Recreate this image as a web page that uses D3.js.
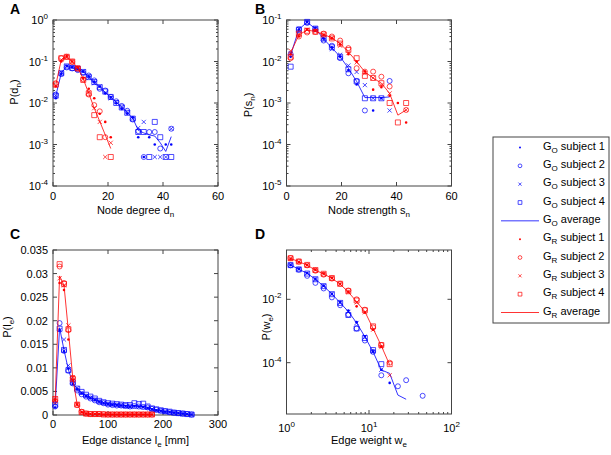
<!DOCTYPE html>
<html>
<head>
<meta charset="utf-8">
<script src="https://cdn.jsdelivr.net/npm/d3@7"></script>
<style>
  body { margin: 0; background: #fff; }
  text { font-family: "Liberation Sans", Arial, sans-serif; }
</style>
</head>
<body>
<div id="chart"></div>
<script>
// ---- data ----
// A: node degree
const degO = [1,3,5,7,9,11,13,15,17,19,21,23,25,27,29,31,33,35,37,39,41,43];
const degO_s1 = [0.013,0.05,0.078,0.072,0.066,0.057,0.044,0.033,0.025,0.017,0.014,0.0098,0.0072,0.0055,0.0045,0.0015,0.0005,0.0015,0.001,null,0.001,0.001];
const degO_s2 = [0.016,0.05,0.072,0.068,0.062,0.053,0.046,0.035,0.022,0.02,0.014,0.011,0.0085,0.0065,0.004,0.0021,0.0005,0.002,0.002,0.0008,null,0.0024];
const degO_s3 = [0.015,0.055,0.077,0.073,0.068,0.058,0.04,0.03,0.025,0.018,0.013,0.0105,0.008,0.006,0.0042,0.0025,0.0035,null,0.0005,0.0005,0.0005,0.0024];
const degO_s4 = [0.015,0.052,0.076,0.07,0.067,0.056,0.042,0.032,0.024,0.019,0.014,0.01,0.0078,0.0058,0.0042,0.002,0.002,0.0005,0.0035,0.0015,0.0005,0.0005];
const degO_avg = [0.0148,0.052,0.076,0.071,0.066,0.056,0.043,0.032,0.024,0.018,0.0138,0.0105,0.0079,0.0059,0.0043,0.0022,0.0019,0.0017,0.0016,0.0011,0.00068,0.00155];

const degR = [1,3,5,7,9,11,13,15,17,19,21];
const degR_s1 = [0.025,0.1,0.135,0.1,0.072,0.04,0.022,0.013,0.0055,0.0035,0.0015];
const degR_s2 = [0.03,0.12,0.13,0.098,0.068,0.037,0.016,0.0089,0.0063,0.0015,null];
const degR_s3 = [0.026,0.11,0.125,0.1,0.07,0.038,0.018,0.0075,0.0035,0.0005,0.0011];
const degR_s4 = [0.028,0.12,0.13,0.1,0.068,0.036,0.017,0.0051,0.0015,null,0.0005];
const degR_avg = [0.027,0.11,0.13,0.1,0.07,0.038,0.017,0.0075,0.0036,0.0017,0.0008];

// B: node strength
const strO = [1.5,4.5,7.5,10.5,13.5,16.5,19.5,22.5,25.5,28.5,31.5,34.5,37.5];
const strO_s1 = [0.013,0.058,0.09,0.064,0.036,0.022,0.013,0.0062,0.0028,null,0.00066,0.0013,null];
const strO_s2 = [0.015,0.06,0.085,0.06,0.032,0.024,0.012,0.0052,0.0034,0.00066,null,null,0.0034];
const strO_s3 = [0.016,0.062,0.088,0.063,0.033,0.02,0.0145,0.008,0.0056,0.0027,0.0013,0.0013,0.00066];
const strO_s4 = [0.0075,0.058,0.09,0.062,0.036,0.022,0.013,0.0065,0.0033,0.0013,0.0013,0.0013,null];
const strO_avg = [0.0144,0.06,0.088,0.062,0.035,0.0215,0.013,0.0069,0.0033,0.00135,0.00135,0.00135,0.0014];

const strR = [1.5,4.5,7.5,10.5,13.5,16.5,19.5,22.5,25.5,28.5,31.5,34.5,37.5,40.5,43.5];
const strR_s1 = [0.015,0.04,0.06,0.055,0.044,0.036,0.026,0.015,0.01,0.0058,0.0021,0.0024,0.0015,0.001,0.00034];
const strR_s2 = [0.012,0.04,0.05,0.052,0.047,0.04,0.032,0.021,0.0069,0.0057,0.0057,0.0043,0.0025,null,0.00068];
const strR_s3 = [0.018,0.045,0.058,0.054,0.044,0.037,0.024,0.016,0.0095,0.0052,0.004,0.0027,0.0017,null,0.00068];
const strR_s4 = [0.013,0.047,0.055,0.052,0.045,0.036,0.027,0.019,0.012,0.0045,0.004,0.003,0.001,0.00034,0.001];
const strR_avg = [0.016,0.044,0.057,0.053,0.045,0.037,0.027,0.017,0.01,0.0056,0.004,0.003,0.0017,0.00051,0.00068];

// C: edge distance
const distO = [4,12,20,28,36,44,52,60,68,76,84,92,100,108,116,124,132,140,148,156,164,172,180,188,196,204,212,220,228,236,244,252];
const distO_s1 = [0.0016,0.018,0.0135,0.0098,0.0066,0.0054,0.0046,0.004,0.0036,0.0032,0.0028,0.0025,0.0023,0.0022,0.0021,0.002,0.0019,0.0018,0.0019,0.0018,0.0017,0.0015,0.0012,0.001,0.0009,0.0007,0.0006,0.0005,0.0004,0.0003,0.0002,0.0001];
const distO_s2 = [0.0018,0.0195,0.0136,0.0094,0.0067,0.0052,0.0044,0.0039,0.0035,0.0031,0.0027,0.0025,0.0022,0.0021,0.002,0.002,0.0019,0.0018,0.0019,0.0018,0.0017,0.0016,0.0013,0.0011,0.0009,0.0008,0.0006,0.0005,0.0004,0.0003,0.0002,0.0001];
const distO_s3 = [0.0024,0.018,0.016,0.0105,0.0072,0.0057,0.0047,0.0041,0.0037,0.0033,0.0029,0.0026,0.0024,0.0022,0.0021,0.002,0.0018,0.0017,0.0017,0.0017,0.0016,0.0015,0.0012,0.001,0.0009,0.0007,0.0006,0.0005,0.0004,0.0003,0.0002,0.0001];
const distO_s4 = [0.0022,0.0183,0.0138,0.0095,0.0069,0.0056,0.0049,0.0043,0.0039,0.0035,0.003,0.0027,0.0025,0.0024,0.0023,0.0022,0.0021,0.0021,0.0025,0.0023,0.0024,0.0018,0.0014,0.0012,0.001,0.0008,0.0007,0.0005,0.0004,0.0003,0.0002,0.0001];
const distO_avg = [0.002,0.0185,0.0138,0.0096,0.0068,0.0055,0.0047,0.0041,0.0037,0.0033,0.0029,0.0026,0.0024,0.0023,0.0022,0.0021,0.002,0.0019,0.002,0.0019,0.0018,0.0016,0.0013,0.0011,0.0009,0.0008,0.00065,0.0005,0.0004,0.0003,0.0002,0.0001];

const distR = [4,12,20,28,36,44,52,60,68,76,84,92,100,108,116,124,132,140,148,156,164,172,180];
const distR_s1 = [0.0032,0.028,0.0265,0.016,0.0075,0.0022,0.0006,0.0003,0.0002,0.0002,0.0002,0.0001,0.0001,0.0001,0.0001,0.0001,0.0001,0.0001,0.0001,0.0001,0.0001,0.0001,0.0001];
const distR_s2 = [0.003,0.0315,0.028,0.018,0.0079,0.0021,0.0007,0.0003,0.0002,0.0002,0.0002,0.0002,0.0001,0.0001,0.0001,0.0001,0.0001,0.0001,0.0001,0.0001,0.0001,0.0001,0.0001];
const distR_s3 = [0.0035,0.029,0.0275,0.019,0.008,0.0023,0.0006,0.0003,0.0002,0.0002,0.0001,0.0001,0.0001,0.0001,0.0001,0.0001,0.0001,0.0001,0.0001,0.0001,0.0001,0.0001,0.0001];
const distR_s4 = [0.0034,0.032,0.0278,0.0182,0.0076,0.0022,0.0006,0.0003,0.0002,0.0002,0.0002,0.0001,0.0001,0.0001,0.0001,0.0001,0.0001,0.0001,0.0001,0.0001,0.0001,0.0001,0.0001];
const distR_avg = [0.0033,0.0295,0.0275,0.0178,0.0078,0.0022,0.0006,0.0003,0.0002,0.0002,0.0002,0.0001,0.0001,0.0001,0.0001,0.0001,0.0001,0.0001,0.0001,0.0001,0.0001,0.0001,0.0001];

// D: edge weight
const wgt = [1.12,1.41,1.78,2.24,2.82,3.55,4.47,5.62,7.08,8.91,11.2,14.1,17.8,22.4,28.2,35.5,44.7];
const wgtO_s1 = [0.12,0.09,0.068,0.044,0.027,0.015,0.0082,0.0044,0.0019,0.00068,0.00023,6e-5,2.3e-5,null,null,null,null];
const wgtO_s2 = [0.118,0.086,0.055,0.033,0.022,0.0115,0.0065,0.0033,0.0012,0.0005,0.00022,4e-5,null,1.8e-5,2.8e-5,null,9e-6];
const wgtO_s3 = [0.122,0.09,0.066,0.044,0.026,0.015,0.0078,0.004,0.0018,0.00066,0.00022,6e-5,null,null,null,null,null];
const wgtO_s4 = [0.12,0.088,0.065,0.043,0.026,0.0145,0.0077,0.0032,0.0012,0.0006,0.00025,9e-5,null,null,null,null,null];
const wgtO_avg = [0.121,0.089,0.066,0.043,0.026,0.0147,0.0078,0.0041,0.0018,0.00066,0.00022,5.9e-5,4.6e-5,9.5e-6,7e-6];

const wgtR_s1 = [0.19,0.15,0.12,0.085,0.065,0.047,0.031,0.0175,0.006,0.0038,0.0011,0.00033,null];
const wgtR_s2 = [0.2,0.155,0.118,0.08,0.06,0.045,0.031,0.019,0.01,0.0047,0.0013,0.00036,0.0001];
const wgtR_s3 = [0.195,0.153,0.12,0.084,0.063,0.046,0.03,0.017,0.008,0.0039,0.0011,0.00031,4e-5];
const wgtR_s4 = [0.198,0.156,0.122,0.084,0.064,0.047,0.031,0.018,0.0092,0.0045,0.0014,0.00036,9e-5];
const wgtR_avg = [0.195,0.154,0.12,0.083,0.063,0.046,0.03,0.017,0.0084,0.0041,0.0012,0.00034,8.5e-5];

const legendLabels = ['subject 1','subject 2','subject 3','subject 4','average'];

// ---- setup ----
const width = 611, height = 455;
const blue = '#0000ff', red = '#ff0000', axisColor = '#444';
const markerTypes = ['dot','circle','cross','square'];

const svg = d3.select('#chart').append('svg')
  .attr('width', width).attr('height', height);

function markerPath(type, cx, cy, k) {
  k = k || 1;
  if (type === 'dot' || type === 'circle') {
    const r = (type === 'dot' ? 1.3 : 2.5) * k;
    return `M${cx - r},${cy}a${r},${r} 0 1,0 ${2 * r},0a${r},${r} 0 1,0 ${-2 * r},0Z`;
  }
  if (type === 'cross') {
    const h = 2.1 * k;
    return `M${cx - h},${cy - h}L${cx + h},${cy + h}M${cx - h},${cy + h}L${cx + h},${cy - h}`;
  }
  const h = 2.5 * k;
  return `M${cx - h},${cy - h}h${2 * h}v${2 * h}h${-2 * h}Z`;
}

// text with sub/superscripts: parts = [[str, 'sub'|'sup'|null], ...]
function rich(sel, parts, small) {
  let shift = 0;
  parts.forEach(([t, k]) => {
    const target = k === 'sub' ? 3 : k === 'sup' ? -5 : 0;
    sel.append('tspan')
      .attr('dy', target - shift)
      .attr('font-size', k ? (small || 8) : null)
      .text(t);
    shift = target;
  });
}

function supLabel(exp) { return [['10', null], [String(exp), 'sup']]; }

function frame(g, x, y, opt) {
  const [x0, x1] = x.range(), [y0, y1] = y.range();
  g.append('rect')
    .attr('x', x0).attr('y', y1).attr('width', x1 - x0).attr('height', y0 - y1)
    .attr('fill', 'none').attr('stroke', axisColor).attr('stroke-width', 1);

  const tk = g.append('g').attr('stroke', axisColor).attr('stroke-width', 1);
  opt.xTicks.forEach(v => {
    tk.append('line').attr('x1', x(v)).attr('x2', x(v)).attr('y1', y0).attr('y2', y0 - 4);
    tk.append('line').attr('x1', x(v)).attr('x2', x(v)).attr('y1', y1).attr('y2', y1 + 4);
  });
  (opt.xMinor || []).forEach(v => {
    tk.append('line').attr('x1', x(v)).attr('x2', x(v)).attr('y1', y0).attr('y2', y0 - 2);
    tk.append('line').attr('x1', x(v)).attr('x2', x(v)).attr('y1', y1).attr('y2', y1 + 2);
  });
  opt.yTicks.forEach(v => {
    tk.append('line').attr('y1', y(v)).attr('y2', y(v)).attr('x1', x0).attr('x2', x0 + 4);
    tk.append('line').attr('y1', y(v)).attr('y2', y(v)).attr('x1', x1).attr('x2', x1 - 4);
  });
  (opt.yMinor || []).forEach(v => {
    tk.append('line').attr('y1', y(v)).attr('y2', y(v)).attr('x1', x0).attr('x2', x0 + 2);
    tk.append('line').attr('y1', y(v)).attr('y2', y(v)).attr('x1', x1).attr('x2', x1 - 2);
  });

  const lab = g.append('g').attr('font-size', 11).attr('fill', '#000');
  opt.xTicks.forEach(v => {
    const t = lab.append('text').attr('x', x(v)).attr('y', opt.xLabY).attr('text-anchor', 'middle');
    if (opt.xLog) rich(t, supLabel(Math.round(Math.log10(v))));
    else t.text(opt.xFmt ? opt.xFmt(v) : v);
  });
  opt.yTicks.forEach(v => {
    const t = lab.append('text').attr('x', x0 - 5).attr('y', y(v) + 4).attr('text-anchor', 'end');
    if (opt.yLog) rich(t, supLabel(Math.round(Math.log10(v))));
    else t.text(opt.yFmt ? opt.yFmt(v) : v);
  });

  const xt = g.append('text').attr('x', (x0 + x1) / 2).attr('y', opt.xTitleY)
    .attr('text-anchor', 'middle').attr('font-size', 11);
  rich(xt, opt.xTitle);
  const yt = g.append('text')
    .attr('transform', `translate(${opt.yTitleX},${opt.yTitleY}) rotate(-90)`)
    .attr('text-anchor', 'middle').attr('font-size', 11);
  rich(yt, opt.yTitle);

  g.append('text').attr('x', opt.letter[1]).attr('y', opt.letter[2])
    .attr('font-size', 14).attr('font-weight', 'bold').text(opt.letter[0]);
}

function plotGroup(g, x, y, xs, subjects, avg, color) {
  subjects.forEach((vals, i) => {
    const pts = xs.map((d, j) => ({ x: d, v: vals[j] })).filter(p => p.v != null);
    g.append('g').selectAll('path').data(pts).join('path')
      .attr('d', p => markerPath(markerTypes[i], x(p.x), y(p.v)))
      .attr('fill', markerTypes[i] === 'dot' ? color : 'none')
      .attr('stroke', color).attr('stroke-width', markerTypes[i] === 'dot' ? 0 : 0.7);
  });
  const line = d3.line().x(d => x(d.x)).y(d => y(d.v));
  const pts = avg.map((v, j) => ({ x: xs[j], v }));
  g.append('path').datum(pts).attr('d', line)
    .attr('fill', 'none').attr('stroke', color).attr('stroke-width', 0.8);
}

function minorLog(lo, hi) {
  const out = [];
  for (let e = lo; e < hi; e++) for (let m = 2; m <= 9; m++) out.push(m * Math.pow(10, e));
  return out;
}

// ---- panel A ----
const xA = d3.scaleLinear().domain([0, 60]).range([53, 218]);
const yA = d3.scaleLog().domain([1e-4, 1]).range([186, 20]);
const gA = svg.append('g');
frame(gA, xA, yA, {
  xTicks: [0, 20, 40, 60], yTicks: [1e-4, 1e-3, 1e-2, 1e-1, 1], yLog: true,
  yMinor: minorLog(-4, 0),
  xLabY: 200, xTitleY: 214, xTitle: [['Node degree d', null], ['n', 'sub']],
  yTitleX: 18, yTitleY: 92, yTitle: [['P(d', null], ['n', 'sub'], [')', null]],
  letter: ['A', 10, 14]
});
plotGroup(gA, xA, yA, degO, [degO_s1, degO_s2, degO_s3, degO_s4], degO_avg, blue);
plotGroup(gA, xA, yA, degR, [degR_s1, degR_s2, degR_s3, degR_s4], degR_avg, red);

// ---- panel B ----
const xB = d3.scaleLinear().domain([0, 60]).range([286.5, 451.5]);
const yB = d3.scaleLog().domain([1e-5, 1e-1]).range([186, 20]);
const gB = svg.append('g');
frame(gB, xB, yB, {
  xTicks: [0, 20, 40, 60], yTicks: [1e-5, 1e-4, 1e-3, 1e-2, 1e-1], yLog: true,
  yMinor: minorLog(-5, -1),
  xLabY: 200, xTitleY: 214, xTitle: [['Node strength s', null], ['n', 'sub']],
  yTitleX: 252, yTitleY: 105, yTitle: [['P(s', null], ['n', 'sub'], [')', null]],
  letter: ['B', 255, 14]
});
plotGroup(gB, xB, yB, strO, [strO_s1, strO_s2, strO_s3, strO_s4], strO_avg, blue);
plotGroup(gB, xB, yB, strR, [strR_s1, strR_s2, strR_s3, strR_s4], strR_avg, red);

// ---- panel C ----
const xC = d3.scaleLinear().domain([0, 300]).range([53, 218]);
const yC = d3.scaleLinear().domain([0, 0.035]).range([415, 250]);
const gC = svg.append('g');
frame(gC, xC, yC, {
  xTicks: [0, 100, 200, 300], yTicks: [0, 0.005, 0.01, 0.015, 0.02, 0.025, 0.03, 0.035],
  yFmt: v => v === 0 ? '0' : String(+v.toFixed(3)),
  xLabY: 428, xTitleY: 444, xTitle: [['Edge distance l', null], ['e', 'sub'], [' [mm]', null]],
  yTitleX: 11, yTitleY: 327, yTitle: [['P(l', null], ['e', 'sub'], [')', null]],
  letter: ['C', 10, 239]
});
plotGroup(gC, xC, yC, distO, [distO_s1, distO_s2, distO_s3, distO_s4], distO_avg, blue);
plotGroup(gC, xC, yC, distR, [distR_s1, distR_s2, distR_s3, distR_s4], distR_avg, red);

// ---- panel D ----
const xD = d3.scaleLog().domain([1, 100]).range([286.5, 451.5]);
const yD = d3.scaleLog().domain([2.4e-6, 0.36]).range([414, 250]);
const gD = svg.append('g');
frame(gD, xD, yD, {
  xTicks: [1, 10, 100], xLog: true, xMinor: minorLog(0, 2),
  yTicks: [1e-4, 1e-2], yLog: true,
  xLabY: 432, xTitleY: 444, xTitle: [['Edge weight w', null], ['e', 'sub']],
  yTitleX: 270, yTitleY: 327, yTitle: [['P(w', null], ['e', 'sub'], [')', null]],
  letter: ['D', 255, 239]
});
plotGroup(gD, xD, yD, wgt, [wgtO_s1, wgtO_s2, wgtO_s3, wgtO_s4], wgtO_avg, blue);
plotGroup(gD, xD, yD, wgt, [wgtR_s1, wgtR_s2, wgtR_s3, wgtR_s4], wgtR_avg, red);

// ---- legend ----
const leg = svg.append('g');
leg.append('rect').attr('x', 493).attr('y', 137).attr('width', 116).attr('height', 186)
  .attr('fill', '#fff').attr('stroke', axisColor).attr('stroke-width', 1);

const legendRows = [];
[['O', blue], ['R', red]].forEach(([sub, color]) => {
  legendLabels.forEach((lab, i) => legendRows.push({ sub, color, lab, type: markerTypes[i] || 'line' }));
});
const rowY = d3.scaleLinear().domain([0, 9]).range([147.5, 312.5]);
legendRows.forEach((r, i) => {
  const cy = rowY(i);
  if (r.type === 'line') {
    leg.append('line').attr('x1', 501).attr('x2', 539).attr('y1', cy).attr('y2', cy)
      .attr('stroke', r.color).attr('stroke-width', 0.8);
  } else {
    leg.append('path').attr('d', markerPath(r.type, 520, cy, 0.75))
      .attr('fill', r.type === 'dot' ? r.color : 'none')
      .attr('stroke', r.color).attr('stroke-width', r.type === 'dot' ? 0 : 0.7);
  }
  const t = leg.append('text').attr('x', 543).attr('y', cy + 2).attr('font-size', 11);
  rich(t, [['G', null], [r.sub, 'sub'], [' ' + r.lab, null]]);
});
</script>
</body>
</html>
